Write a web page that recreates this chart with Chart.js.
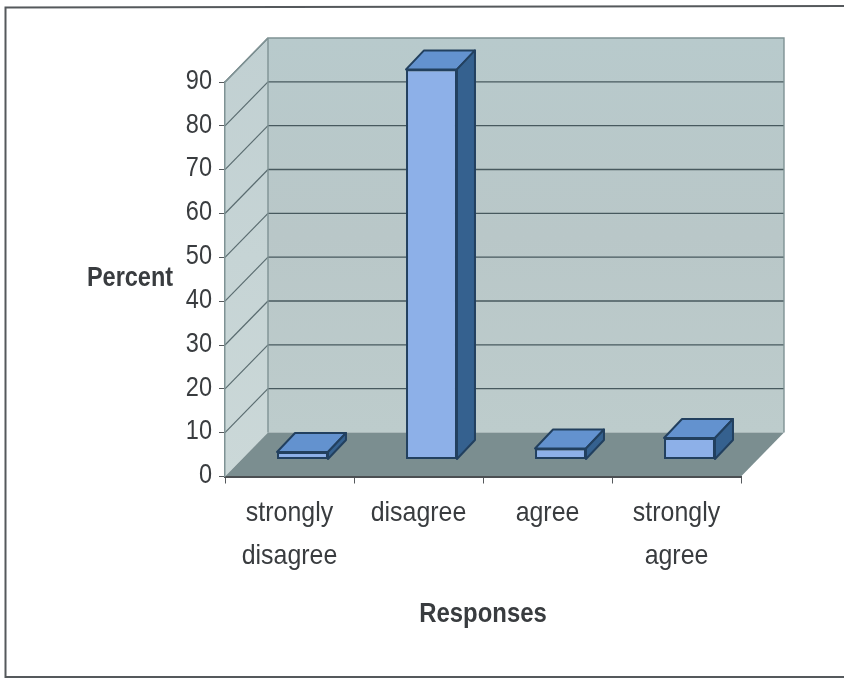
<!DOCTYPE html>
<html>
<head>
<meta charset="utf-8">
<title>Responses</title>
<script src="https://cdn.jsdelivr.net/npm/chart.js@4"></script>
<style>
    html, body { margin: 0; padding: 0; background: #fff; }
    canvas { display: block; }
</style>
</head>
<body>
<canvas id="barChart" width="844" height="679"></canvas>
<script>
const categories = [["strongly", "disagree"], "disagree", "agree", ["strongly", "agree"]];
const percent = [1.7, 89, 2.5, 4.9];
const yTicks = [0, 10, 20, 30, 40, 50, 60, 70, 80, 90];
const xTitle = "Responses";
const yTitle = "Percent";

const fontFamily = "'Liberation Sans', Arial, sans-serif";
const textColor = "#393c3f";

// how far the back wall sits behind the front plane
const wallDepth = { x: 43, y: 44 };
// where the bars stand on the floor, and how deep they are
const barShift = { x: 13, y: 17 };
const barDepth = { x: 18, y: 19 };

function poly(ctx, points, fill, stroke, lineWidth) {
    ctx.beginPath();
    points.forEach((p, i) => i ? ctx.lineTo(p[0], p[1]) : ctx.moveTo(p[0], p[1]));
    ctx.closePath();
    if (fill) {
        ctx.fillStyle = fill;
        ctx.fill();
    }
    if (stroke) {
        ctx.strokeStyle = stroke;
        ctx.lineWidth = lineWidth || 1;
        ctx.stroke();
    }
}

// the labels use a narrow face, so squeeze Liberation Sans horizontally
function narrowText(ctx, text, x, y, size, squeeze, align, weight) {
    ctx.save();
    ctx.translate(x, y);
    ctx.scale(squeeze, 1);
    ctx.font = (weight || "normal") + " " + size + "px " + fontFamily;
    ctx.fillStyle = textColor;
    ctx.textAlign = align;
    ctx.textBaseline = "middle";
    ctx.fillText(text, 0, 0);
    ctx.restore();
}

const box3d = {
    id: "box3d",
    beforeDraw(chart) {
        const ctx = chart.ctx;
        const a = chart.chartArea;
        const yScale = chart.scales.y;
        const dx = wallDepth.x, dy = wallDepth.y;

        ctx.save();
        // page frame, open on the right
        ctx.strokeStyle = "#55595c";
        ctx.lineWidth = 2;
        ctx.beginPath();
        ctx.moveTo(844, 6);
        ctx.lineTo(5.5, 7.5);
        ctx.lineTo(5.5, 677);
        ctx.lineTo(844, 677);
        ctx.stroke();

        // left side wall
        const side = ctx.createLinearGradient(0, a.top - dy, 0, a.bottom);
        side.addColorStop(0, "#c1d0d2");
        side.addColorStop(1, "#cbd8d8");
        poly(ctx, [[a.left, a.top], [a.left + dx, a.top - dy], [a.left + dx, a.bottom - dy], [a.left, a.bottom]], side);

        // back wall
        const back = ctx.createLinearGradient(0, a.top - dy, 0, a.bottom - dy);
        back.addColorStop(0, "#b8cacc");
        back.addColorStop(0.5, "#b9c7c8");
        back.addColorStop(1, "#bdcccc");
        poly(ctx, [[a.left + dx, a.top - dy], [a.right + dx, a.top - dy], [a.right + dx, a.bottom - dy], [a.left + dx, a.bottom - dy]], back);

        // floor
        poly(ctx, [[a.left, a.bottom], [a.left + dx, a.bottom - dy], [a.right + dx, a.bottom - dy], [a.right, a.bottom]], "#7b8e90");

        // gridlines wrap from the side wall onto the back wall
        yTicks.forEach(t => {
            if (t === 0) return;
            const y = yScale.getPixelForValue(t);
            ctx.beginPath();
            ctx.moveTo(a.left, y);
            ctx.lineTo(a.left + dx, y - dy);
            ctx.strokeStyle = "#5a6c70";
            ctx.lineWidth = 1.2;
            ctx.stroke();
            if (t === 90) return;
            ctx.beginPath();
            ctx.moveTo(a.left + dx, y - dy);
            ctx.lineTo(a.right + dx, y - dy);
            ctx.strokeStyle = "#47595e";
            ctx.lineWidth = 1.4;
            ctx.stroke();
        });

        // wall outlines
        ctx.strokeStyle = "#7f9294";
        ctx.lineWidth = 1.4;
        ctx.beginPath();
        ctx.moveTo(a.left, a.top);
        ctx.lineTo(a.left + dx, a.top - dy);
        ctx.lineTo(a.right + dx, a.top - dy);
        ctx.lineTo(a.right + dx, a.bottom - dy);
        ctx.moveTo(a.left + dx, a.top - dy);
        ctx.lineTo(a.left + dx, a.bottom - dy);
        ctx.stroke();
        ctx.restore();
    },
    beforeDatasetsDraw(chart) {
        chart.ctx.save();
        chart.ctx.translate(barShift.x, -barShift.y);
    },
    afterDatasetsDraw(chart) {
        const ctx = chart.ctx;
        const dx = barDepth.x, dy = barDepth.y;
        chart.getDatasetMeta(0).data.forEach(bar => {
            const l = bar.x - bar.width / 2;
            const r = bar.x + bar.width / 2;
            const t = bar.y;
            const b = bar.base;
            ctx.lineJoin = "round";
            poly(ctx, [[l, t], [l + dx, t - dy], [r + dx, t - dy], [r, t]], "#6392cf", "#22405f", 2);
            poly(ctx, [[r, t], [r + dx, t - dy], [r + dx, b - dy], [r, b]], "#35618f", "#22405f", 2);
        });
        ctx.restore();
    },
    afterDraw(chart) {
        const ctx = chart.ctx;
        const a = chart.chartArea;
        const x = chart.scales.x;
        const y = chart.scales.y;

        // value labels, taken from the scale's ticks
        y.ticks.forEach((tick, i) => {
            narrowText(ctx, String(tick.value), 212, y.getPixelForTick(i) - 1, 28, 0.84, "right");
        });

        // category labels, one or two lines
        categories.forEach((label, i) => {
            const lines = Array.isArray(label) ? label : [label];
            lines.forEach((line, n) => {
                narrowText(ctx, line, x.getPixelForTick(i), a.bottom + 37 + n * 43, 28, 0.89, "center");
            });
        });

        narrowText(ctx, yTitle, 130, 279, 27, 0.87, "center", "bold");
        narrowText(ctx, xTitle, (a.left + a.right) / 2, 615, 27, 0.885, "center", "bold");
    }
};

const bChart = document.getElementById("barChart");

let barChart = new Chart(bChart, {
    type: "bar",
    data: {
        labels: categories,
        datasets: [
            {
                label: yTitle,
                data: percent,
                backgroundColor: "#8db0e8",
                borderColor: "#22405f",
                borderWidth: 2,
                borderSkipped: false,
                barPercentage: 0.395,
                categoryPercentage: 1,
                clip: false
            }
        ]
    },
    plugins: [box3d],
    options: {
        responsive: false,
        animation: false,
        layout: { padding: { top: 82, right: 103, bottom: 2, left: 0 } },
        plugins: {
            legend: { display: false },
            tooltip: { enabled: false }
        },
        scales: {
            x: {
                afterFit: s => { s.height = 200.5; },
                grid: { drawOnChartArea: false, drawTicks: true, tickLength: 7, tickColor: "#55595c", offset: true },
                border: { color: "#4b4f52", width: 2 },
                ticks: { display: false }
            },
            y: {
                min: 0,
                max: 90,
                afterFit: s => { s.width = 225; },
                afterBuildTicks: s => { s.ticks = yTicks.map(v => ({ value: v })); },
                grid: { drawOnChartArea: false, drawTicks: true, tickLength: 6, tickColor: "#55595c" },
                border: { color: "#7f9294", width: 1.5 },
                ticks: { display: false }
            }
        }
    }
});
</script>
</body>
</html>
